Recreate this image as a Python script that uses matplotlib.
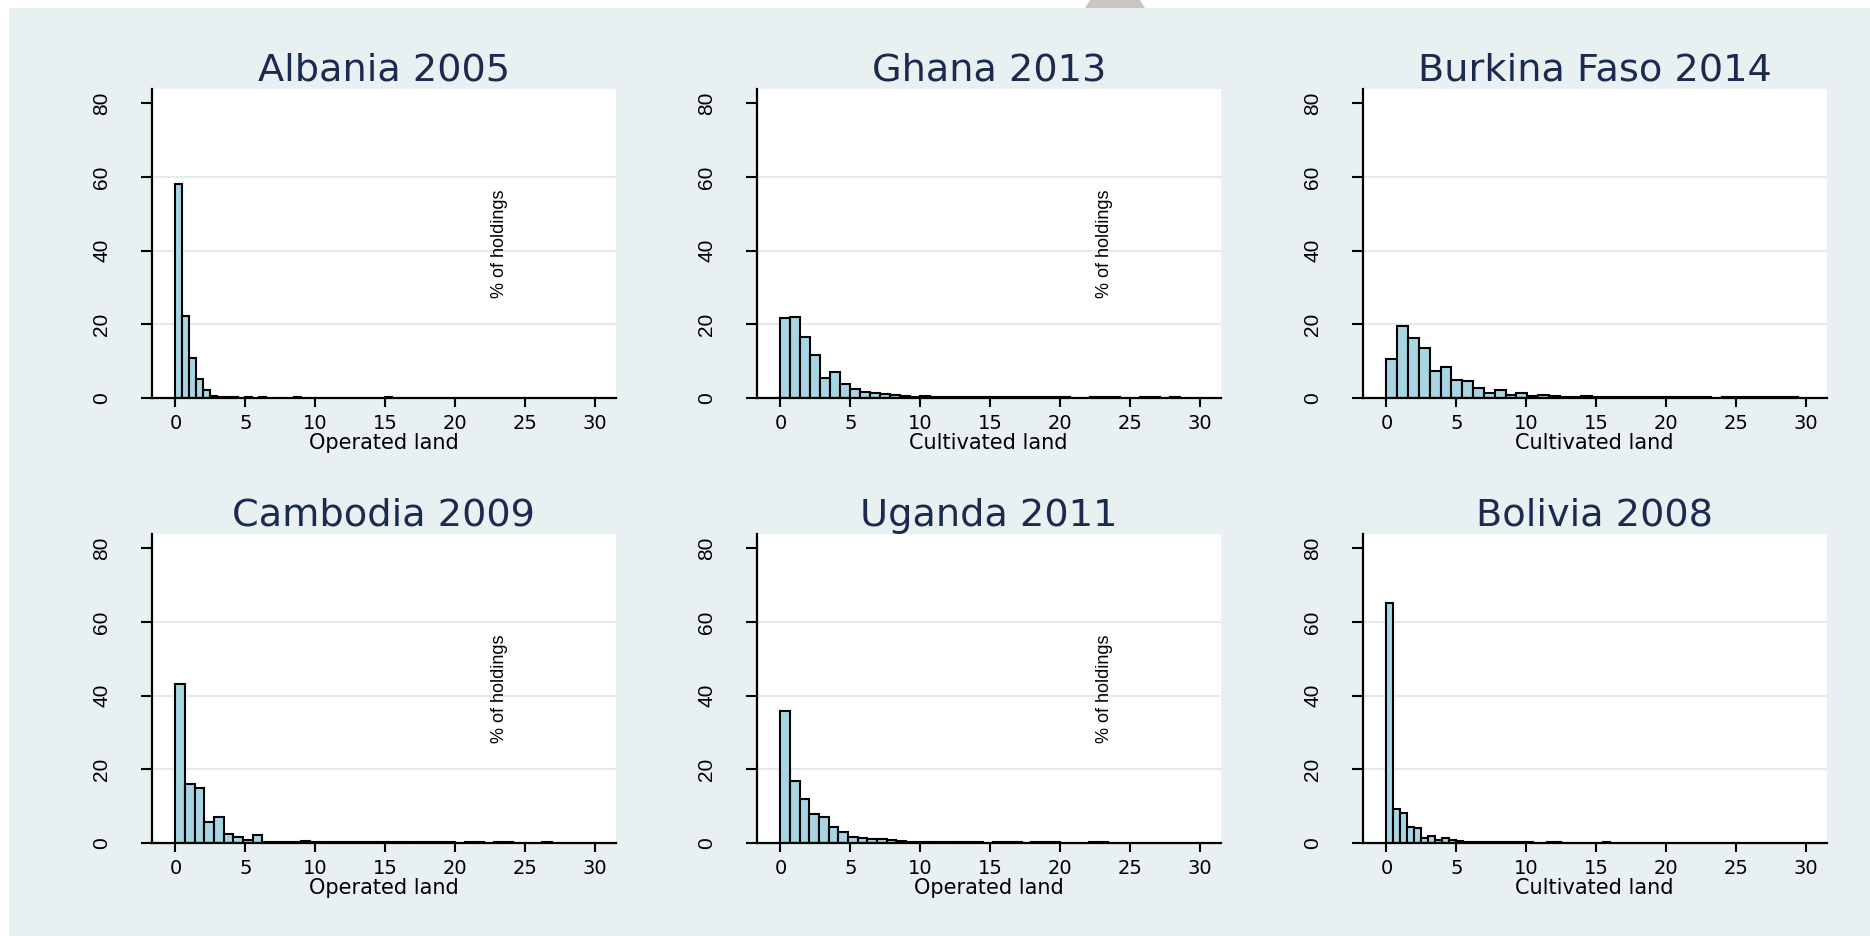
import matplotlib
matplotlib.use("Agg")
import matplotlib.pyplot as plt
from matplotlib.patches import Rectangle, Polygon
import numpy as np

# ---------------- data ----------------
titles = ["Albania 2005", "Ghana 2013", "Burkina Faso 2014",
          "Cambodia 2009", "Uganda 2011", "Bolivia 2008"]
xlabels = ["Operated land", "Cultivated land", "Cultivated land",
           "Operated land", "Operated land", "Cultivated land"]
show_ytitle = [True, True, False, True, True, False]

albania_width = 0.5
albania_pct = [58.0, 22.2, 10.8, 5.2, 2.3, 0.6, 0.35, 0.3, 0.25, 0.0, 0.25, 0.0,
               0.25, 0.0, 0.0, 0.0, 0.0, 0.25, 0.0, 0.0, 0.0, 0.0, 0.0, 0.0,
               0.0, 0.0, 0.0, 0.0, 0.0, 0.0, 0.25]

ghana_width = 0.715
ghana_pct = [21.6, 22.0, 16.5, 11.6, 5.4, 7.0, 3.8, 2.5, 1.7, 1.45, 1.0, 0.7,
             0.45, 0.3, 0.5, 0.3, 0.3, 0.25, 0.25, 0.25, 0.25, 0.25, 0.25, 0.25,
             0.25, 0.25, 0.25, 0.25, 0.25, 0.0, 0.0, 0.25, 0.25, 0.25, 0.0, 0.0,
             0.25, 0.25, 0.0, 0.25]

burkina_width = 0.775
burkina_pct = [10.5, 19.5, 16.2, 13.5, 7.3, 8.4, 5.0, 4.7, 2.7, 1.45, 2.2, 0.9,
               1.3, 0.45, 0.8, 0.45, 0.35, 0.3, 0.45, 0.25, 0.25, 0.25, 0.25,
               0.25, 0.25, 0.25, 0.25, 0.25, 0.25, 0.25, 0.0, 0.25, 0.25, 0.25,
               0.25, 0.25, 0.25, 0.25]

cambodia_width = 0.69
cambodia_pct = [43.2, 16.0, 14.9, 5.7, 7.0, 2.6, 1.8, 0.9, 2.3, 0.4, 0.3, 0.3,
                0.3, 0.6, 0.25, 0.25, 0.25, 0.45, 0.25, 0.25, 0.25, 0.25, 0.25,
                0.25, 0.25, 0.25, 0.25, 0.25, 0.25, 0.0, 0.25, 0.25, 0.0, 0.25,
                0.25, 0.0, 0.0, 0.0, 0.25]

uganda_width = 0.69
uganda_pct = [35.9, 16.8, 12.0, 7.9, 7.0, 4.5, 3.0, 1.8, 1.35, 1.1, 1.1, 0.9,
              0.55, 0.45, 0.45, 0.35, 0.3, 0.25, 0.25, 0.25, 0.25, 0.0, 0.25,
              0.25, 0.25, 0.0, 0.25, 0.25, 0.25, 0.0, 0.0, 0.0, 0.25, 0.25]

bolivia_width = 0.5
bolivia_pct = [65.2, 9.3, 8.1, 4.5, 4.2, 1.5, 2.0, 0.9, 1.35, 0.9, 0.6, 0.45,
               0.35, 0.3, 0.3, 0.25, 0.25, 0.25, 0.25, 0.25, 0.25, 0.0, 0.0,
               0.25, 0.25, 0.0, 0.0, 0.0, 0.0, 0.0, 0.0, 0.25]

x_ticks = [0, 5, 10, 15, 20, 25, 30]
y_ticks = [0, 20, 40, 60, 80]

panels = [(albania_pct, albania_width), (ghana_pct, ghana_width),
          (burkina_pct, burkina_width), (cambodia_pct, cambodia_width),
          (uganda_pct, uganda_width), (bolivia_pct, bolivia_width)]

# ---------------- style ----------------
W, H = 1870, 936
bg_color = "#E8F0F2"
bar_color = "#A8D5E3"
grid_color = "#DFE8EC"
title_color = "#1B2A4E"

fig = plt.figure(figsize=(W / 100, H / 100), dpi=100)
fig.patch.set_facecolor("white")
fig.patches.append(Rectangle((9 / W, 0), 1 - 9 / W, 1 - 8 / H,
                             transform=fig.transFigure, facecolor=bg_color,
                             edgecolor="none", zorder=-10))
fig.patches.append(Polygon([(1090 / W, 1.0), (1140 / W, 1.0),
                            (1145 / W, 1 - 8 / H), (1085 / W, 1 - 8 / H)],
                           closed=True, transform=fig.transFigure,
                           facecolor="#C9C5C2", edgecolor="none", zorder=-10))

col_left = [151.7, 756.7, 1362.7]
ax_w = 464.0
row_top = [89.3, 534.0]
row_bot = [398.0, 843.3]

for k, ((pct, width), title, xlab, ytit) in enumerate(
        zip(panels, titles, xlabels, show_ytitle)):
    r, c = divmod(k, 3)
    left = col_left[c] / W
    bottom = 1 - row_bot[r] / H
    height = (row_bot[r] - row_top[r]) / H
    ax = fig.add_axes([left, bottom, ax_w / W, height])
    ax.set_zorder(1)
    ax.set_facecolor("white")

    pct = np.asarray(pct)
    edges = np.arange(len(pct)) * width
    keep = pct > 0
    ax.bar(edges[keep], pct[keep], width=width, align="edge",
           color=bar_color, edgecolor="black", linewidth=1.5, zorder=3)

    ax.set_xlim(-1.7, 31.5)
    ax.set_ylim(0, 83.8)
    ax.set_xticks(x_ticks)
    ax.set_yticks(y_ticks)
    ax.set_xticklabels([str(t) for t in x_ticks], fontsize=14,
                       family="DejaVu Sans")
    ax.set_yticklabels([str(t) for t in y_ticks], fontsize=15,
                       family="Liberation Sans", rotation=90, va="center")
    ax.tick_params(axis="x", direction="out", length=6.5, width=1.5, pad=5)
    ax.tick_params(axis="y", direction="out", length=8, width=1.5, pad=21)
    for t in [20, 40, 60]:
        ax.axhline(t, color=grid_color, linewidth=1.2, zorder=1)
    for s in ["top", "right"]:
        ax.spines[s].set_visible(False)
    for s in ["left", "bottom"]:
        ax.spines[s].set_linewidth(1.6)
        ax.spines[s].set_zorder(4)
    ax.set_xlabel(xlab, fontsize=15, family="DejaVu Sans", labelpad=0)
    ax.set_title(title, fontsize=27.5, family="DejaVu Sans",
                 color=title_color, pad=6)
    if ytit:
        ax.text(23.2, 42, "% of holdings", rotation=90, ha="center",
                va="center", fontsize=13, family="Liberation Sans",
                zorder=5)

fig.savefig("out.png", dpi=100, facecolor=fig.get_facecolor())
